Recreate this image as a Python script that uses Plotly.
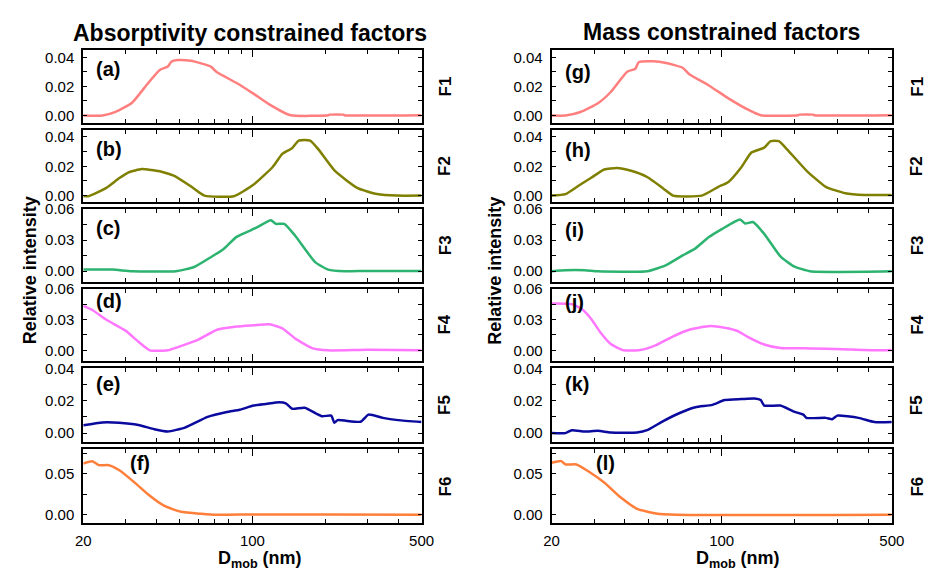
import plotly.graph_objects as go

# ---------------- data (D_mob in nm, relative intensity) ----------------
factor_names = ["F1", "F2", "F3", "F4", "F5", "F6"]
panel_titles = ["Absorptivity constrained factors", "Mass constrained factors"]
left_letters = ["(a)", "(b)", "(c)", "(d)", "(e)", "(f)"]
right_letters = ["(g)", "(h)", "(i)", "(j)", "(k)", "(l)"]
x_tick_vals = [20, 100, 500]
x_tick_text = ["20", "100", "500"]
x_minor_vals = [30, 40, 50, 60, 70, 80, 90, 200, 300, 400]
colors = ["#ff7f7f", "#7f7f00", "#2db370", "#ff77ff", "#0a0a9e", "#ff7f3a"]

# Absorptivity constrained
abs_f1_d = [20, 24.0, 27.2, 31.8, 37.1, 41.4, 44.7, 46.2, 49.1, 55.7, 67.3, 71.4, 86.0, 100.9, 117.4, 143.7, 206, 208, 238, 240, 500]
abs_f1_v = [0, 0, 0.0025, 0.0088, 0.0224, 0.0314, 0.0337, 0.037, 0.0382, 0.0377, 0.0337, 0.0298, 0.0224, 0.0151, 0.0077, 0.0002, 0.0002, 0.0006, 0.0006, 0.0002, 0.0002]
abs_f2_d = [20, 21, 24.8, 28.1, 30.8, 34.9, 38.3, 42.1, 47.3, 55.7, 63.4, 83.8, 100.9, 121.5, 133.2, 146, 155.3, 173.2, 187.4, 218.7, 272.2, 327.5, 395, 500]
abs_f2_v = [-0.0004, -0.0004, 0.0051, 0.0118, 0.0159, 0.0181, 0.0174, 0.0163, 0.0136, 0.0063, 0.0, -0.0004, 0.0074, 0.0197, 0.0286, 0.0324, 0.0375, 0.0375, 0.0315, 0.017, 0.0051, 0.0011, 0.0, 0.0]
abs_f3_d = [20, 26.4, 31.8, 48.2, 57.4, 67.3, 76.1, 86.0, 103.9, 119.2, 125, 135.4, 150.5, 181.6, 205.5, 240.4, 294.6, 500]
abs_f3_v = [0.0016, 0.0016, 0.0, 0.0, 0.0041, 0.0135, 0.0214, 0.033, 0.0418, 0.049, 0.0455, 0.0455, 0.0339, 0.0088, 0.0016, 0.0, 0.0003, 0.0003]
abs_f4_d = [20, 21.8, 24.8, 29.9, 33.8, 37.7, 44.7, 49.2, 59.2, 71.4, 86.0, 100.9, 117.4, 133.0, 150.5, 176.4, 205.5, 298.6, 500]
abs_f4_v = [0.0433, 0.0393, 0.030, 0.0192, 0.0084, 0.0, 0.0, 0.0031, 0.0099, 0.0201, 0.0232, 0.0244, 0.0254, 0.0213, 0.0114, 0.0022, 0.0, 0.0006, 0.0]
abs_f5_d = [20, 24.0, 28.1, 33.8, 39.3, 44.7, 52.6, 65.3, 78.4, 88.6, 101, 113.9, 129.2, 137.3, 146, 164.6, 193.4, 211.7, 218, 225, 280, 302, 346, 400, 500]
abs_f5_v = [0.0048, 0.0066, 0.0064, 0.005, 0.0024, 0.001, 0.0034, 0.010, 0.013, 0.0144, 0.017, 0.018, 0.019, 0.0184, 0.015, 0.0156, 0.0104, 0.0108, 0.0064, 0.008, 0.007, 0.0114, 0.0094, 0.008, 0.0068]
abs_f6_d = [20, 21.8, 23.2, 25.5, 28.1, 32.8, 37.1, 43.3, 50.6, 61.4, 71.4, 100, 200, 500]
abs_f6_v = [0.0623, 0.065, 0.0603, 0.0603, 0.0544, 0.0385, 0.0246, 0.0107, 0.0036, 0.0012, 0.0, 0.0004, 0.0004, 0.0]

# Mass constrained
mass_f1_d = [20, 22.8, 26.3, 31.0, 35.0, 40.9, 44.2, 45.6, 52.3, 59.1, 69.1, 73.6, 88.6, 106.6, 128.3, 144.7, 206, 208, 238, 240, 500]
mass_f1_v = [0, 0, 0.0024, 0.0084, 0.0162, 0.0302, 0.0322, 0.0367, 0.0373, 0.0362, 0.0329, 0.0284, 0.0207, 0.0118, 0.004, 0.0002, 0.0002, 0.0006, 0.0006, 0.0002, 0.0002]
mass_f2_d = [20, 22.8, 25.8, 29.1, 32.9, 37.2, 42.1, 49.4, 57.5, 63.1, 82.9, 96.9, 106.6, 120.4, 132.2, 149.5, 158.9, 171.7, 185.6, 222.9, 267.9, 322, 387, 500]
mass_f2_v = [0, 0.001, 0.0067, 0.0122, 0.0178, 0.0189, 0.0171, 0.0127, 0.0049, 0.0, 0.0, 0.006, 0.0093, 0.0193, 0.0293, 0.0327, 0.0371, 0.0371, 0.0316, 0.0171, 0.006, 0.0016, 0.0004, 0.0004]
mass_f3_d = [20, 22.8, 27.4, 31.0, 49.4, 59.1, 69.1, 78.0, 88.6, 100.1, 118.9, 124.8, 134.5, 149.5, 174.3, 196.9, 230.6, 500]
mass_f3_v = [0.0, 0.001, 0.001, 0.0, 0.0, 0.0059, 0.0152, 0.022, 0.0328, 0.0405, 0.0498, 0.0458, 0.0473, 0.0359, 0.0142, 0.005, 0.0, 0.0]
mass_f4_d = [20, 24.2, 26.6, 29.1, 32.0, 35.0, 39.6, 46.2, 53.8, 63.2, 73.6, 89.8, 102.8, 116.2, 127.8, 149.5, 174.3, 230.6, 313, 424, 500]
mass_f4_v = [0.0456, 0.045, 0.0402, 0.0306, 0.0163, 0.0061, 0.0, 0.0003, 0.0051, 0.0137, 0.0201, 0.0236, 0.022, 0.0188, 0.0131, 0.0057, 0.0022, 0.0019, 0.001, 0.0, 0.0003]
mass_f5_d = [20, 22.8, 24.2, 27.4, 31.0, 35.0, 44.9, 49.4, 57.5, 67.2, 78.0, 91.5, 102.8, 120.4, 136.4, 144.7, 149.5, 174.3, 196.9, 216.4, 222.9, 267.9, 284.7, 298.5, 365, 424, 500]
mass_f5_v = [0.0, 0.0, 0.0018, 0.001, 0.0014, 0.0004, 0.0004, 0.0018, 0.0074, 0.0124, 0.016, 0.0174, 0.0204, 0.021, 0.0214, 0.0204, 0.017, 0.017, 0.0134, 0.0114, 0.0094, 0.0094, 0.0086, 0.0108, 0.0094, 0.0068, 0.0068]
mass_f6_d = [20, 21.9, 22.8, 25.3, 28.2, 32.9, 38.4, 44.9, 53.8, 65.1, 500]
mass_f6_v = [0.0632, 0.0652, 0.0612, 0.0612, 0.0532, 0.0392, 0.0212, 0.0072, 0.0016, 0.0, 0.0]

abs_series = [(abs_f1_d, abs_f1_v), (abs_f2_d, abs_f2_v), (abs_f3_d, abs_f3_v),
              (abs_f4_d, abs_f4_v), (abs_f5_d, abs_f5_v), (abs_f6_d, abs_f6_v)]
mass_series = [(mass_f1_d, mass_f1_v), (mass_f2_d, mass_f2_v), (mass_f3_d, mass_f3_v),
               (mass_f4_d, mass_f4_v), (mass_f5_d, mass_f5_v), (mass_f6_d, mass_f6_v)]

y_ranges = [[-0.005, 0.045], [-0.0045, 0.045], [-0.0100, 0.0602], [-0.0100, 0.0602], [-0.0055, 0.0402], [-0.0105, 0.0795]]
y_major = [[0, 0.02, 0.04], [0, 0.02, 0.04], [0, 0.03, 0.06], [0, 0.03, 0.06], [0, 0.02, 0.04], [0, 0.05]]
y_minor = [[0.01, 0.03], [0.01, 0.03], [0.015, 0.045], [0.015, 0.045], [0.01, 0.03], [0.025, 0.075]]

# ---------------- layout geometry ----------------
W, H = 940, 572
x_doms = [[77 / W, 423 / W], [556 / W, 904 / W]]
rows_px = [(42, 116), (123, 197), (203.5, 278), (285, 358.5), (366, 441.5), (449, 524.5)]
y_doms = [[1 - b / H, 1 - t / H] for t, b in rows_px]
letter_pos_left = [(0.032, 0.74), (0.032, 0.74), (0.032, 0.74), (0.032, 0.82), (0.032, 0.79), (0.133, 0.81)]
letter_pos_right = [(0.034, 0.70), (0.034, 0.72), (0.034, 0.71), (0.034, 0.81), (0.034, 0.79), (0.126, 0.81)]

FONT = "Arial, Liberation Sans, sans-serif"
fig = go.Figure()
layout = dict(
    width=W, height=H, margin=dict(l=0, r=0, t=0, b=0),
    paper_bgcolor="white", plot_bgcolor="white", showlegend=False,
    font=dict(family=FONT, size=15, color="black"),
)
annotations = []

idx = 0
for col, (series, letters, lpos) in enumerate([(abs_series, left_letters, letter_pos_left),
                                                (mass_series, right_letters, letter_pos_right)]):
    for r in range(6):
        idx += 1
        sfx = "" if idx == 1 else str(idx)
        d, v = series[r]
        fig.add_trace(go.Scatter(x=d, y=v, mode="lines", xaxis="x" + sfx, yaxis="y" + sfx,
                                 line=dict(color=colors[r], width=2.5, shape="spline", smoothing=0.5),
                                 hoverinfo="skip"))
        bottom = (r == 5)
        layout["xaxis" + sfx] = dict(
            type="log", range=[1.30103, 2.69897], domain=x_doms[col], anchor="y" + sfx,
            showline=True, linecolor="black", linewidth=2, mirror="ticks",
            ticks="inside", ticklen=7, tickwidth=1.3, tickcolor="black",
            tickvals=x_tick_vals, ticktext=x_tick_text, showticklabels=bottom,
            tickfont=dict(size=15), showgrid=False, zeroline=False, ticklabelstandoff=3,
            minor=dict(tickvals=x_minor_vals, ticks="inside", ticklen=4, tickwidth=1.3,
                       tickcolor="black", showgrid=False),
        )
        layout["yaxis" + sfx] = dict(
            range=y_ranges[r], domain=y_doms[r], anchor="x" + sfx,
            showline=True, linecolor="black", linewidth=2, mirror="ticks",
            ticks="inside", ticklen=4, tickwidth=1.3, tickcolor="black",
            tickvals=y_major[r], tickformat=".2f", tickfont=dict(size=15),
            showgrid=False, zeroline=False, ticklabelstandoff=4,
            minor=dict(tickvals=y_minor[r], ticks="inside", ticklen=4, tickwidth=1.3,
                       tickcolor="black", showgrid=False),
        )
        annotations.append(dict(text="<b>" + letters[r] + "</b>", xref="x" + sfx + " domain",
                                yref="y" + sfx + " domain", x=lpos[r][0], y=lpos[r][1],
                                xanchor="left", yanchor="middle", showarrow=False,
                                font=dict(size=20, family=FONT)))
        fx = 447 / W if col == 0 else 930 / W
        annotations.append(dict(text="<b>" + factor_names[r] + "</b>", xref="paper", yref="paper",
                                x=fx, y=sum(y_doms[r]) / 2, textangle=-90,
                                xanchor="center", yanchor="middle", showarrow=False,
                                font=dict(size=17, family=FONT)))

annotations.append(dict(text="<b>" + panel_titles[0] + "</b>", xref="paper", yref="paper",
                        x=248 / W, y=1 - 24 / H, showarrow=False, xanchor="center", yanchor="middle",
                        font=dict(size=23, family=FONT)))
annotations.append(dict(text="<b>" + panel_titles[1] + "</b>", xref="paper", yref="paper",
                        x=730 / W, y=1 - 23 / H, showarrow=False, xanchor="center", yanchor="middle",
                        font=dict(size=23, family=FONT)))
for xp in (22, 498):
    annotations.append(dict(text="<b>Relative intensity</b>", xref="paper", yref="paper",
                            x=xp / W, y=1 - 267 / H, textangle=-90, showarrow=False,
                            xanchor="center", yanchor="middle", font=dict(size=18, family=FONT)))
for xp in (258, 747):
    annotations.append(dict(text="<b>D<sub>mob</sub> (nm)</b>", xref="paper", yref="paper",
                            x=xp / W, y=1 - 561 / H, showarrow=False,
                            xanchor="center", yanchor="middle", font=dict(size=18, family=FONT)))

layout["annotations"] = annotations
fig.update_layout(**layout)
fig.write_html("out.html", config={"displayModeBar": False},
               post_script="document.body.style.margin='0';")
